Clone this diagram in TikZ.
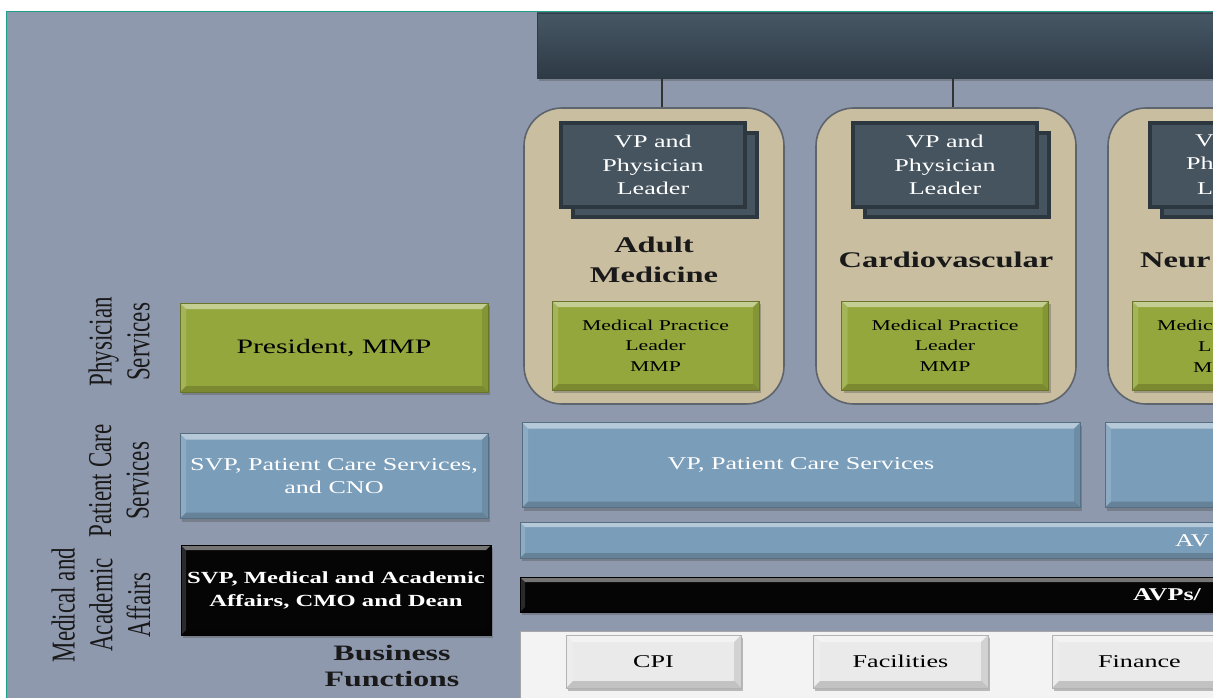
\documentclass[tikz,border=0pt]{standalone}
\usepackage{fontspec}
\setmainfont{Liberation Serif}[FakeStretch=1.45]
\newfontfamily\sidefont{Liberation Serif}
\usetikzlibrary{shadows}

\definecolor{bgblue}{HTML}{8F99AE}
\definecolor{frameteal}{HTML}{1F9E8C}
\definecolor{boardtop}{HTML}{465764}
\definecolor{boardbot}{HTML}{2E3A46}
\definecolor{tan}{HTML}{C9BEA0}
\definecolor{tanedge}{HTML}{5E646C}
\definecolor{slate}{HTML}{45545F}
\definecolor{slateedge}{HTML}{2D3740}
\definecolor{mmpgreen}{HTML}{94A73C}
\definecolor{pcsblue}{HTML}{7A9DB9}
\definecolor{panelgray}{HTML}{F3F3F3}
\definecolor{btngray}{HTML}{EAEAEA}

\begin{document}
\begin{tikzpicture}[
    x=1pt, y=-1pt,
    bevel/.style = {path picture={
        \fill[white, opacity=.45] (path picture bounding box.north west) -- (path picture bounding box.north east)
            -- ([shift={(-#1,-#1)}]path picture bounding box.north east) -- ([shift={(#1,-#1)}]path picture bounding box.north west) -- cycle;
        \fill[white, opacity=.15] (path picture bounding box.north west) -- ([shift={(#1,-#1)}]path picture bounding box.north west)
            -- ([shift={(#1,#1)}]path picture bounding box.south west) -- (path picture bounding box.south west) -- cycle;
        \fill[black, opacity=.1] (path picture bounding box.north east) -- ([shift={(-#1,-#1)}]path picture bounding box.north east)
            -- ([shift={(-#1,#1)}]path picture bounding box.south east) -- (path picture bounding box.south east) -- cycle;
        \fill[black, opacity=.17] (path picture bounding box.south west) -- ([shift={(#1,#1)}]path picture bounding box.south west)
            -- ([shift={(-#1,#1)}]path picture bounding box.south east) -- (path picture bounding box.south east) -- cycle;}},
    bevel/.default = 6pt,
    boxshade/.style = {drop shadow={shadow xshift=2pt, shadow yshift=-3pt, opacity=.35, fill=black!70}},
    board/.style = {top color=boardtop, bottom color=boardbot, draw=boardbot, minimum width=703pt, minimum height=65pt, boxshade},
    card/.style = {draw=tanedge, fill=tan, line width=1.6pt, rounded corners=38pt, minimum width=260pt, minimum height=296pt},
    lead/.style = {draw=slateedge, fill=slate, line width=3.5pt, minimum width=184pt, minimum height=84pt, inner sep=0pt,
        text=white, align=center, font=\fontsize{18}{23.5}\selectfont},
    leadback/.style = {draw=slateedge, fill=slate, line width=3.5pt, minimum width=184pt, minimum height=84pt},
    title/.style = {align=center, text=black!90, font=\bfseries\fontsize{22.4}{30}\selectfont},
    practice/.style = {fill=mmpgreen, draw=mmpgreen!70!black, line width=.6pt, bevel, boxshade, minimum width=207pt, minimum height=89pt,
        inner sep=2pt, align=center, font=\fontsize{15}{20.5}\selectfont},
    president/.style = {practice, minimum width=308pt, font=\fontsize{20.5}{24}\selectfont},
    pcs/.style = {fill=pcsblue, draw=pcsblue!70!black, line width=.6pt, bevel, boxshade, minimum height=85pt, inner sep=2pt,
        text=white, align=center, font=\fontsize{18}{22.5}\selectfont},
    svp/.style = {fill=black!98, draw=black, bevel=5pt, boxshade, minimum width=310pt, minimum height=90pt, inner sep=1pt,
        text=white, align=center, font=\bfseries\fontsize{17}{23}\selectfont},
    bar/.style = {bevel=5pt, boxshade, minimum width=720pt, inner sep=0pt},
    panel/.style = {fill=panelgray, draw=gray!70, line width=.6pt, minimum width=720pt, minimum height=89pt},
    btn/.style = {fill=btngray, draw=gray!60, line width=.5pt, bevel=7pt, boxshade, minimum width=175pt, minimum height=53pt,
        font=\fontsize{18}{22}\selectfont},
    side/.style = {rotate=90, yscale=1.45, align=center, text=black!90, font=\sidefont\fontsize{23}{26}\selectfont},
    edgetext/.style = {anchor=base west, inner sep=0pt},
    link/.style = {draw=black!80, line width=1.3pt}
]

\useasboundingbox (0,0) rectangle (1213,698);
\clip (0,0) rectangle (1213,698);

% background sheet
\fill[white] (0,0) rectangle (1213,698);
\fill[bgblue] (6,11) rectangle (1240,720);
\draw[frameteal, line width=1pt] (6.5,720) -- (6.5,11.5) -- (1240,11.5);

% =========================================================
% TOP: leadership bar and service line cards
% =========================================================
\node[board] (board) at (888.5,45.5) {};

\node[card] (card1) at (654,256) {};
\node[card] (card2) at (946,256) {};
\node[card] (card3) at (1238,256) {};

\coordinate (tap1) at (662,0);
\coordinate (tap2) at (953,0);
\draw[link] (board.south -| tap1) -- (card1.north -| tap1);
\draw[link] (board.south -| tap2) -- (card2.north -| tap2);

% VP and physician leader (stacked boxes)
\node[leadback] (vp1back) at (665,175) {};
\node[lead] (vp1) at (653,165) {VP and\\Physician\\Leader};
\node[leadback] (vp2back) at (957,175) {};
\node[lead] (vp2) at (945,165) {VP and\\Physician\\Leader};
\node[leadback] (vp3back) at (1254,175) {};
\node[lead] (vp3) at (1242,165) {};
\begin{scope}[text=white, font=\fontsize{18}{23.5}\selectfont]
\node[edgetext] (vp3a) at (1195,147) {V};
\node[edgetext] (vp3b) at (1186,170) {Ph};
\node[edgetext] (vp3c) at (1197,194) {L};
\end{scope}

% service line names
\node[title] (adult) at (654,260) {Adult\\Medicine};
\node[title] (cardio) at (946,260) {Cardiovascular};
\node[title, anchor=west, inner sep=0pt] (neuro) at (1140,260) {Neur};

% medical practice leaders
\node[practice] (mpl1) at (655.5,345.5) {Medical Practice\\Leader\\MMP};
\node[practice] (mpl2) at (945,345.5) {Medical Practice\\Leader\\MMP};
\node[practice] (mpl3) at (1235.5,345.5) {};
\begin{scope}[font=\fontsize{15}{20.5}\selectfont]
\node[edgetext] (mpl3a) at (1157,330) {Medic};
\node[edgetext] (mpl3b) at (1198,351) {L};
\node[edgetext] (mpl3c) at (1193,372) {M};
\end{scope}

% =========================================================
% LEFT: row labels and senior leaders
% =========================================================
\node[side] (physlbl) at (119,342) {Physician\\Services};
\node[side] (pcslbl) at (119,481) {Patient Care\\Services};
\node[side] (maalbl) at (101,605) {Medical and\\Academic\\Affairs};

\node[president] (pres) at (334,347.5) {President, MMP};
\node[pcs, minimum width=308pt] (svppcs) at (334,476) {SVP, Patient Care Services,\\and CNO};
\node[svp] (svpmaa) at (336,590) {SVP, Medical and Academic\\Affairs, CMO and Dean};

\node[title, font=\bfseries\fontsize{22}{26}\selectfont] (bizlbl) at (392,666) {Business\\Functions};

% =========================================================
% MIDDLE / BOTTOM: patient care and business rows
% =========================================================
\node[pcs, minimum width=558pt] (vppcs1) at (801,465) {VP, Patient Care Services};
\node[pcs, minimum width=300pt] (vppcs2) at (1255,465) {};

\node[bar, fill=pcsblue, draw=pcsblue!70!black, minimum height=36pt] (avbar) at (880,540) {};
\node[anchor=west, inner sep=0pt, text=white, font=\fontsize{18}{22}\selectfont] (avtext) at (1175,541) {AV};

\node[bar, fill=black!98, draw=black, minimum height=35pt] (blkbar) at (880,594.5) {};
\node[anchor=west, inner sep=0pt, text=white, font=\bfseries\fontsize{18}{22}\selectfont] (avptext) at (1133,595) {AVPs/};

\node[panel] (panel) at (880,675.5) {};
\node[btn] (cpi) at (653.5,661.5) {CPI};
\node[btn] (fac) at (900.5,661.5) {Facilities};
\node[btn] (fin) at (1139.5,661.5) {Finance};

\end{tikzpicture}
\end{document}
